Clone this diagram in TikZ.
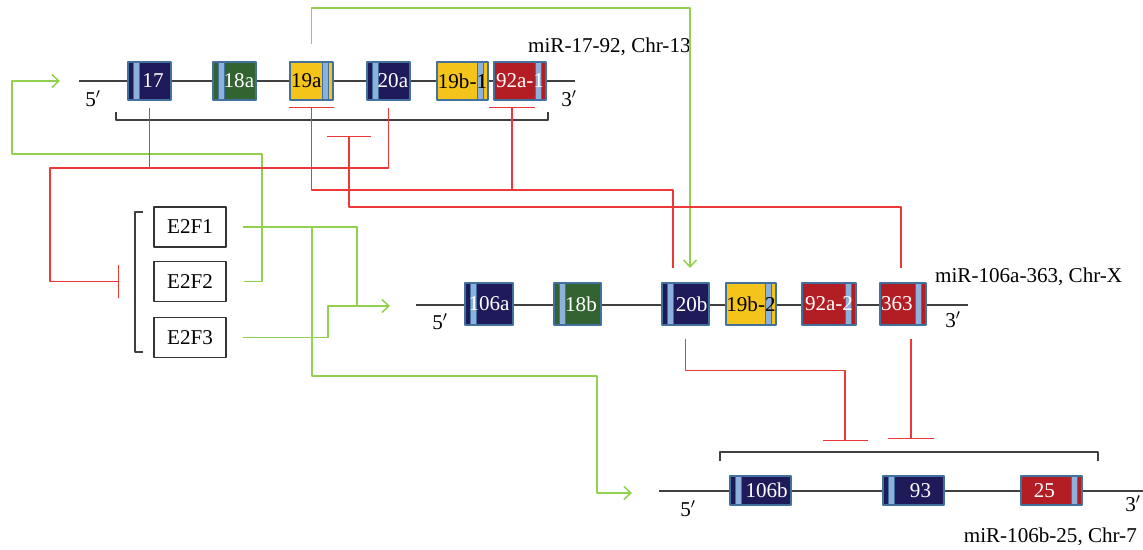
\documentclass[tikz,border=0pt]{standalone}
\usepackage{fontspec}
\setmainfont{Liberation Serif}
\usetikzlibrary{arrows.meta}
\definecolor{mirnavy}{HTML}{1F1B5A}
\definecolor{mirgreen}{HTML}{346332}
\definecolor{miryellow}{HTML}{F5C41A}
\definecolor{mirred}{HTML}{B21E24}
\definecolor{stripeblue}{HTML}{8DB1DD}
\definecolor{geneedge}{HTML}{41719C}
\definecolor{inhred}{HTML}{EE3838}
\definecolor{actgreen}{HTML}{92D050}
\tikzset{
  axis/.style={draw=black!75, line width=0.75pt},
  gene/.style={draw=geneedge, line width=0.6pt, inner sep=0pt},
  nv/.style={fill=mirnavy, text=white},
  gr/.style={fill=mirgreen, text=white},
  ye/.style={fill=miryellow, text=black},
  rd/.style={fill=mirred, text=white},
  sl/.style={path picture={\filldraw[fill=stripeblue, draw=geneedge, line width=0.4pt]
      ([xshift=0.1cm]path picture bounding box.north west) rectangle
      ([xshift=0.22cm]path picture bounding box.south west);}},
  sr/.style={path picture={\filldraw[fill=stripeblue, draw=geneedge, line width=0.4pt]
      ([xshift=-0.1cm]path picture bounding box.north east) rectangle
      ([xshift=-0.22cm]path picture bounding box.south east);}},
  tf/.style={draw=black!80, line width=0.85pt, minimum width=1.44cm, minimum height=0.8cm},
  rl/.style={draw=inhred, line width=0.85pt},
  gl/.style={draw=actgreen, line width=0.85pt}
}
\begin{document}
\begin{tikzpicture}[x=0.02cm, y=-0.02cm, line join=round, font=\fontsize{12}{14}\selectfont,
  >={Straight Barb[length=1.4mm,width=2.6mm]}]
\useasboundingbox (0,0) rectangle (1143,550);
% backbones
\draw[axis] (79,81)--(575,81);
\draw[axis] (416,305)--(968,305);
\draw[axis] (659,491)--(1143,491);
% miR-17-92 cluster
\foreach \n/\x/\w/\c/\s/\h/\t in {17/149.5/0.86/nv/sl/4/17, 18a/234.5/0.86/gr/sl/5/18a,
  19a/311.5/0.86/ye/sr/-6/19a, 20a/388.5/0.86/nv/sl/5/20a,
  19b1/462.5/1.02/ye/sr/0/19b-1, 92a1/520/1.04/rd/sr/0/92a-1}
  \node[gene,\c,\s,minimum width=\w cm,minimum height=0.76cm] (g\n) at (\x,81) {\hspace*{\h pt}\t};
% miR-106a-363 cluster
\foreach \n/\x/\w/\c/\s/\h/\t in {106a/489/0.96/nv/sl/0/106a, 18b/577.5/0.94/gr/sl/4/18b,
  20b/685.5/0.94/nv/sl/7/20b, 19b2/751/1.0/ye/sr/0/19b-2,
  92a2/829/1.08/rd/sr/0/92a-2, 363/903/0.92/rd/sr/-7/363}
  \node[gene,\c,\s,minimum width=\w cm,minimum height=0.84cm] (g\n) at (\x,304) {\hspace*{\h pt}\t};
% miR-106b-25 cluster
\foreach \n/\x/\c/\s/\h in {106b/760.5/nv/sl/7, 93/913.5/nv/sl/8, 25/1051.5/rd/sr/-8}
  \node[gene,\c,\s,minimum width=1.22cm,minimum height=0.58cm] (g\n) at (\x,490.5) {\hspace*{\h pt}\n};
% ends and names
\node (p5a) at (93,99) {5$'$};
\node (p3a) at (569,99) {3$'$};
\node (p5b) at (440,322) {5$'$};
\node (p3b) at (953,320) {3$'$};
\node (p5c) at (688,509) {5$'$};
\node (p3c) at (1133,504) {3$'$};
\node[anchor=west] (n17) at (522,47) {miR-17-92, Chr-13};
\node[anchor=west] (n106a) at (929,277) {miR-106a-363, Chr-X};
\node[anchor=east] (n106b) at (1143,537) {miR-106b-25, Chr-7};
% brackets
\draw[axis] (116,112) |- (548,120) -- (548,112);
\draw[axis] (720,461) |- (1098,452) -- (1098,461);
\draw[axis] (143,212) -| (135,352) -- (143,352);
% E2F factors
\node[tf] (e2f1) at (190,227) {E2F1};
\node[tf] (e2f2) at (190,281.5) {E2F2};
\node[tf] (e2f3) at (190,337.5) {E2F3};
% junctions
\coordinate (gtop) at (690,8);
\coordinate (a20b) at (690,268);
\coordinate (gl1) at (262,154);
\coordinate (gl2) at (12,81);
\coordinate (a17) at (60,81);
\coordinate (jm) at (357,306);
\coordinate (jm3) at (328,306);
\coordinate (amid) at (390,306);
\coordinate (jb) at (312,227);
\coordinate (gb) at (597,376);
\coordinate (abot) at (632,493);
\coordinate (r1) at (50,168);
\coordinate (bar1) at (119,281.5);
\coordinate (j92) at (512,190);
\coordinate (t20b) at (673,268);
\coordinate (bmid) at (349,136);
\coordinate (t363) at (901,268);
\coordinate (bb1) at (845,441);
\coordinate (bb2) at (911,439);
% activation
\draw[gl,->] (g19a.north) ++(0,-17) |- (gtop) -- (a20b);
\draw[gl,->] (e2f2.east) ++(17,0) -| (gl1) -| (gl2) -- (a17);
\draw[gl] (e2f1.east) ++(16,0) -| (jm);
\draw[gl,->] (e2f3.east) ++(16,0) -| (jm3) -- (amid);
\draw[gl,->] (jb) |- (gb) |- (abot);
% inhibition
\draw[rl,-{Bar[width=0.66cm]}] (g20a.south) ++(0,7) |- (r1) |- (bar1);
\draw[rl] (g17.south) ++(0,7) -- (g17.south |- r1);
\draw[rl,{Bar[width=0.92cm]}-] (g19a.south) ++(0,6) |- (j92) -| (t20b);
\draw[rl,{Bar[width=0.92cm]}-] (j92 |- g92a1.south) ++(0,6) -- (j92);
\draw[rl,{Bar[width=0.9cm]}-] (bmid) -- ++(0,71) -| (t363);
\draw[rl,-{Bar[width=0.9cm]}] (g20b.south) ++(0,13) -- ++(0,32) -| (bb1);
\draw[rl,-{Bar[width=0.92cm]}] (bb2 |- g363.south) ++(0,13) -- (bb2);
\end{tikzpicture}
\end{document}
